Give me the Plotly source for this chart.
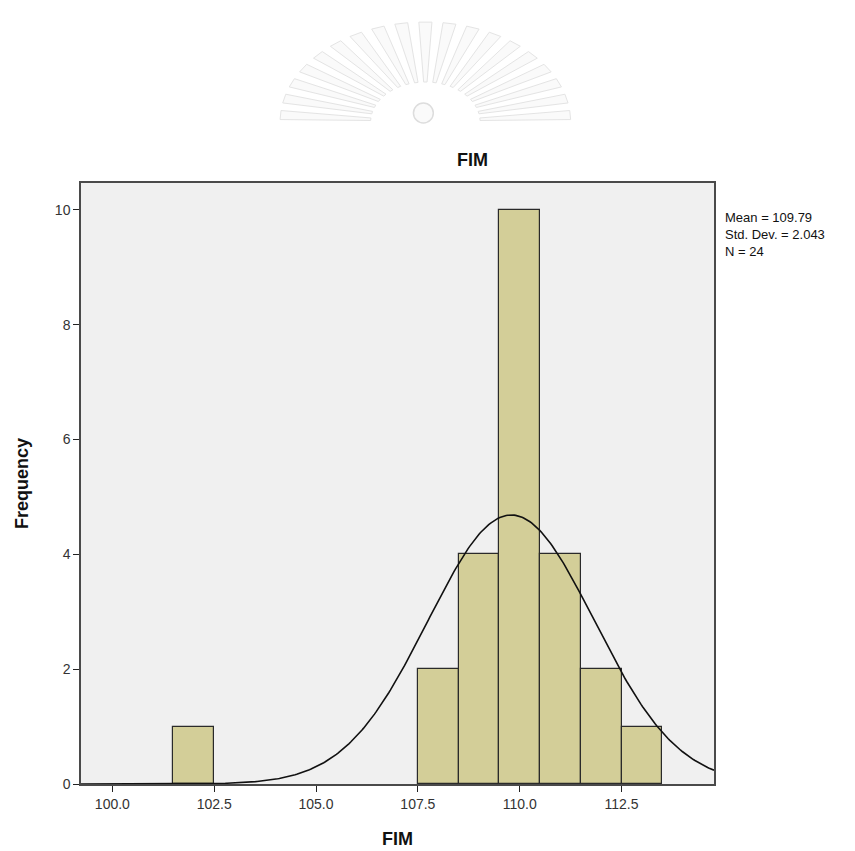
import numpy as np
import plotly.graph_objects as go

# ---- data ----
bin_left = [101.5, 107.5, 108.5, 109.5, 110.5, 111.5, 112.5]
counts = [1, 2, 4, 10, 4, 2, 1]
bin_width = 1.0
mean_val = 109.79
std_val = 2.043
n_val = 24
x_ticks = [100.0, 102.5, 105.0, 107.5, 110.0, 112.5]
y_ticks = [0, 2, 4, 6, 8, 10]
x_range = [99.23, 114.77]
y_range = [0, 10.47]

# ---- figure ----
W, H = 855, 851
OFF = 8  # page body offset
L, R, T, B = 78 - OFF, 141 + OFF, 183 - OFF, 67 + OFF
PW, PH = W - L - R, H - T - B

fig = go.Figure()

centers = [b + bin_width / 2 for b in bin_left]
fig.add_trace(go.Bar(
    x=centers, y=counts, width=bin_width,
    marker=dict(color="#D3CE98", line=dict(color="#2a2a2a", width=1.2)),
    hoverinfo="skip", showlegend=False,
))

# fitted normal curve from displayed statistics
xc = np.linspace(x_range[0], x_range[1], 400)
yc = n_val * bin_width / (std_val * np.sqrt(2 * np.pi)) * np.exp(-0.5 * ((xc - mean_val) / std_val) ** 2)
fig.add_trace(go.Scatter(x=xc, y=yc, mode="lines",
                         line=dict(color="#111111", width=1.6),
                         hoverinfo="skip", showlegend=False))

# ---- faint watermark (decorative) ----
def px2paper(px, py):
    # px, py are screen pixel positions in the reference picture
    px -= OFF
    py -= OFF
    return (px - L) / PW, (H - B - py) / PH

shapes = []
cx, cy = 424, 122
n_rays = 19
for i in range(n_rays):
    ang = np.deg2rad(176 - i * (172 / (n_rays - 1)))
    r_in_x, r_in_y = 55, 40
    r_out_x, r_out_y = 146, 100
    hw = 0.045
    pts = []
    for (a, rx, ry) in [(ang - hw * 0.7, r_in_x, r_in_y), (ang - hw, r_out_x, r_out_y),
                        (ang + hw, r_out_x, r_out_y), (ang + hw * 0.7, r_in_x, r_in_y)]:
        px = cx + rx * np.cos(a)
        py = cy - ry * np.sin(a)
        pts.append(px2paper(px, py))
    path = "M " + " L ".join(f"{p[0]:.4f},{p[1]:.4f}" for p in pts) + " Z"
    shapes.append(dict(type="path", path=path, xref="paper", yref="paper",
                       fillcolor="#FAFAFA", line=dict(color="#E4E4E4", width=1), layer="below"))
ccx, ccy = 422, 113
x0, y0 = px2paper(ccx - 10, ccy - 10)
x1, y1 = px2paper(ccx + 10, ccy + 10)
shapes.append(dict(type="circle", xref="paper", yref="paper", x0=x0, y0=y1, x1=x1, y1=y0,
                   fillcolor="#FAFAFA", line=dict(color="#DDDDDD", width=1.5), layer="below"))

font_family = "Arial, Liberation Sans, sans-serif"

tx, ty = px2paper(471, 160)
sx, sy = px2paper(723, 208)
annotations = [
    dict(text="<b>FIM</b>", x=tx, y=ty, xref="paper", yref="paper", showarrow=False,
         xanchor="center", yanchor="middle",
         font=dict(size=18, color="#111111", family=font_family)),
    dict(text=f"Mean = {mean_val:.2f}<br>Std. Dev. = {std_val:.3f}<br>N = {n_val}",
         x=sx, y=sy, xref="paper", yref="paper", xanchor="left", yanchor="top",
         align="left", showarrow=False,
         font=dict(size=13, color="#111111", family=font_family)),
]

fig.update_layout(
    width=W, height=H,
    margin=dict(l=L, r=R, t=T, b=B, pad=0),
    paper_bgcolor="white", plot_bgcolor="#F0F0F0",
    bargap=0, showlegend=False,
    font=dict(family=font_family, color="#222222"),
    shapes=shapes, annotations=annotations,
    xaxis=dict(range=x_range, tickvals=x_ticks, tickformat=".1f",
               showgrid=False, zeroline=False, showline=True, mirror=True,
               linecolor="#4a4a4a", linewidth=1.5,
               ticks="outside", ticklen=6, tickwidth=1.2, tickcolor="#222222",
               tickfont=dict(size=14, color="#333333"),
               title=dict(text="<b>FIM</b>", font=dict(size=18, color="#111111"), standoff=22)),
    yaxis=dict(range=y_range, tickvals=y_ticks,
               showgrid=False, zeroline=False, showline=True, mirror=True,
               linecolor="#4a4a4a", linewidth=1.5,
               ticks="outside", ticklen=6, tickwidth=1.2, tickcolor="#222222",
               tickfont=dict(size=14, color="#333333"),
               title=dict(text="<b>Frequency</b>", font=dict(size=18, color="#111111"), standoff=22)),
)

fig.write_html("out.html")
